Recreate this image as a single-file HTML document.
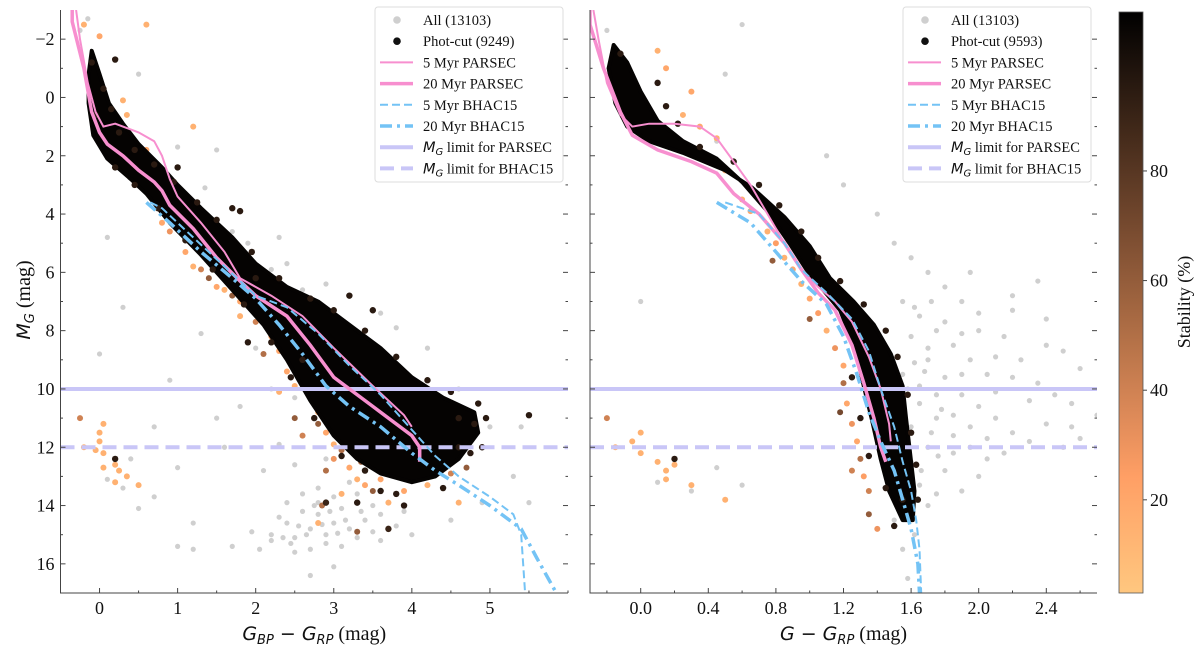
<!DOCTYPE html>
<html><head><meta charset="utf-8">
<style>
html,body{margin:0;padding:0;background:#fff;}
svg{display:block;font-family:"Liberation Serif",serif;}
</style></head>
<body>
<svg id="fig" width="1200" height="652" viewBox="0 0 1200 652" xmlns="http://www.w3.org/2000/svg"></svg>
<script>
// ---------------- DATA ----------------
const leftXTicks=[0,1,2,3,4,5];
const rightXTicks=[0.0,0.4,0.8,1.2,1.6,2.0,2.4];
const rightXTickLabels=["0.0","0.4","0.8","1.2","1.6","2.0","2.4"];
const yTicks=[-2,0,2,4,6,8,10,12,14,16];
const cbarTicks=[20,40,60,80];
const limitParsec=10, limitBhac=12;

// left panel (BP-RP)
const leftBand=[[-0.1,-1.6],[0.0,-0.8],[0.12,0.2],[0.3,0.9],[0.5,1.6],[0.8,2.4],[1.0,3.0],[1.3,3.8],[1.7,4.8],[2.0,5.7],[2.4,6.5],[2.8,7.0],[3.2,7.8],[3.6,8.6],[4.0,9.6],[4.4,10.3],[4.8,10.8],[4.85,11.5],[4.6,12.4],[4.3,13.0],[4.0,13.2],[3.6,12.9],[3.3,12.4],[3.0,11.6],[2.7,10.4],[2.4,9.0],[2.1,7.8],[1.7,6.6],[1.3,5.4],[0.9,4.3],[0.6,3.3],[0.4,2.8],[0.1,2.1],[-0.08,1.3],[-0.14,0.2],[-0.14,-0.8]];
const leftP5=[[-0.3,-3],[-0.25,-2],[-0.15,-0.5],[-0.05,0.5],[0.05,1.0],[0.2,0.9],[0.5,1.2],[0.7,1.5],[0.8,2.0],[0.9,2.8],[1.0,3.4],[1.3,4.3],[1.6,5.3],[1.8,6.2],[2.2,6.8],[2.6,7.5],[3.0,8.6],[3.5,9.9],[3.9,10.9],[4.0,11.3]];
const leftP20=[[-0.35,-3],[-0.35,-2.6],[-0.2,-1],[-0.1,0.5],[0,1.2],[0.1,1.6],[0.3,2.0],[0.5,2.5],[0.7,2.9],[0.8,3.2],[0.9,3.7],[1.2,4.5],[1.5,5.5],[1.8,6.3],[2.0,6.8],[2.4,7.5],[2.7,8.5],[3.0,9.6],[3.5,10.6],[4.0,11.6],[4.1,12.0],[4.1,12.5]];
const leftB5=[[0.65,3.6],[0.8,3.8],[1.2,4.8],[1.6,5.8],[2.0,6.8],[2.4,7.2],[2.8,8.1],[3.2,9.2],[3.6,10.2],[4.0,11.4],[4.3,12.3],[4.6,13.0],[5.0,13.7],[5.3,14.3],[5.4,15.0],[5.45,17]];
const leftB20=[[0.6,3.6],[0.9,4.3],[1.3,5.3],[1.7,6.2],[2.0,6.9],[2.3,7.8],[2.6,8.8],[2.9,9.9],[3.2,10.6],[3.6,11.3],[4.0,12.2],[4.3,12.8],[4.6,13.3],[5.0,14.0],[5.4,14.8],[5.6,15.8],[5.85,17]];
const leftGray=[[0.6,-2.5],[0.5,-0.8],[1.5,1.8],[1.35,3.1],[1.1,3.3],[1.0,1.7],[0.1,4.8],[0.0,8.8],[0.9,9.7],[0.7,11.3],[0.4,12.4],[0.3,13.4],[0.1,13.1],[0.5,14.1],[0.7,13.7],[1.0,15.4],[1.2,15.5],[1.2,14.6],[1.0,12.7],[1.5,11.0],[1.6,12.0],[1.8,10.6],[2.0,8.6],[2.2,10.0],[2.3,11.9],[2.1,12.8],[2.5,10.3],[2.5,12.6],[2.8,13.9],[2.9,12.4],[1.7,15.4],[2.2,15.2],[2.5,15.6],[2.7,16.4],[3.0,16.1],[2.3,4.8],[2.2,5.9],[2.4,5.7],[2.6,6.6],[2.9,6.4],[3.6,7.4],[3.8,7.9],[4.2,8.6],[4.6,10.0],[5.0,11.3],[5.3,13.0],[5.4,11.3],[5.5,13.9],[4.9,13.9],[4.5,14.5],[4.0,15.0],[3.6,15.2],[1.9,5.0],[1.7,4.6],[0.3,7.2],[1.3,8.1],[1.9,7.0],[-0.25,-2.3],[-0.15,-2.7],[3.5,14.0],[2.2,15.0],[2.4,14.6],[2.5,15.1],[2.6,14.2],[2.7,14.8],[2.8,14.3],[2.9,15.0],[3.0,14.6],[3.1,14.1],[3.2,14.8],[3.3,15.1],[3.4,14.5],[3.5,14.9],[2.6,13.6],[2.8,13.4],[3.0,13.7],[3.3,13.6],[3.6,14.3],[3.8,14.7],[3.9,14.2],[2.9,15.3],[2.7,15.5],[3.1,15.4],[2.4,13.9],[2.3,14.4],[3.2,13.2],[2.75,14.0],[3.05,14.95],[2.55,14.7],[2.85,14.65],[2.45,15.3],[2.65,15.0],[2.95,14.2],[3.15,14.5],[3.35,14.2],[2.35,15.1],[2.05,15.5],[1.95,14.9]];
const leftStars=[[0.0,-2.1,20],[-0.2,-2.5,15],[0.6,-2.5,15],[0.3,0.1,15],[0.35,0.6,15],[1.2,1.0,15],[0.6,1.8,20],[0.1,0.8,15],[-0.25,11.0,40],[-0.2,12.0,15],[-0.05,12.1,15],[0.0,11.5,15],[0.05,11.2,15],[0.0,11.8,15],[0.05,12.2,15],[0.05,12.7,15],[0.2,12.6,15],[0.25,12.8,15],[0.2,13.2,15],[0.35,13.0,15],[0.5,13.3,15],[0.2,12.4,95],[0.7,3.5,25],[0.8,4.3,20],[0.9,4.6,30],[1.1,5.3,20],[1.2,5.8,15],[1.3,5.9,40],[1.5,6.5,20],[1.6,6.6,15],[1.8,7.0,20],[1.8,7.5,15],[1.7,6.8,60],[2.0,7.7,40],[2.2,8.2,20],[2.1,8.8,50],[2.3,8.7,20],[2.4,9.4,20],[2.5,9.9,15],[2.6,9.6,30],[2.7,10.3,20],[2.8,10.8,15],[2.8,11.2,60],[2.9,11.5,20],[3.0,11.9,15],[3.1,12.1,50],[3.0,12.4,30],[3.2,12.7,20],[3.3,13.1,15],[3.35,12.5,55],[3.4,13.3,20],[3.5,13.5,60],[3.6,13.1,20],[3.7,13.9,15],[3.9,13.5,20],[4.2,13.3,15],[2.5,11.0,60],[2.6,11.6,40],[2.9,12.8,50],[3.1,13.6,15],[2.8,14.6,15],[2.85,14.0,50],[2.3,10.1,15],[1.4,6.2,60],[4.5,12.9,40],[4.6,13.9,15],[4.7,12.7,60],[3.3,14.9,60],[2.9,13.9,90],[3.7,14.8,90],[5.5,10.9,95],[2.6,9.0,95],[1.9,8.4,95],[4.8,11.2,95],[4.6,11.0,95],[4.85,10.5,95],[3.2,6.8,95],[3.5,7.3,95],[2.0,6.2,95],[1.7,3.8,95],[1.8,3.9,95],[1.0,2.4,95],[0.2,-1.3,95],[-0.1,-1.2,95],[0.05,-0.3,95],[0.15,0.4,95],[0.25,1.2,95],[-0.05,0.6,95],[0.45,1.8,95],[0.7,2.3,95],[0.95,2.9,95],[1.25,3.6,95],[1.5,4.2,95],[1.95,5.3,95],[2.3,6.2,95],[2.7,6.9,95],[3.0,7.3,95],[3.4,8.0,95],[3.8,8.9,95],[4.2,9.7,95],[4.5,10.1,95],[4.95,11.0,95],[4.9,12.0,95],[4.75,12.2,95],[4.4,13.4,95],[3.8,13.6,95],[3.6,13.5,95],[3.4,12.8,95],[3.1,12.3,95],[2.75,11.0,95],[2.45,9.6,95],[2.2,8.4,95],[1.85,7.1,95],[1.45,5.9,95],[1.1,4.9,95],[0.75,3.8,95],[0.45,3.0,95],[0.2,2.4,95],[3.9,14.0,95],[3.3,13.9,95],[4.6,12.0,95]];

// right panel (G-RP)
const rightBand=[[-0.16,-1.8],[-0.08,-1.2],[0.0,-0.2],[0.1,0.8],[0.25,1.5],[0.45,2.1],[0.6,2.9],[0.75,3.9],[0.88,5.0],[0.98,5.9],[1.08,6.6],[1.18,7.3],[1.27,8.6],[1.32,9.9],[1.37,11.1],[1.42,12.4],[1.47,13.5],[1.55,14.5],[1.61,14.5],[1.62,13.5],[1.6,12.5],[1.57,11.0],[1.55,9.9],[1.48,8.8],[1.38,7.8],[1.26,7.0],[1.12,6.2],[1.0,5.1],[0.85,4.1],[0.66,3.1],[0.5,2.5],[0.25,1.9],[0.05,1.5],[-0.08,1.0],[-0.15,0.2],[-0.19,-1.0]];
const rightP5=[[-0.28,-3],[-0.25,-2],[-0.2,-0.5],[-0.12,0.6],[-0.05,1.0],[0.05,0.9],[0.2,0.9],[0.35,1.0],[0.45,1.4],[0.55,2.2],[0.65,3.0],[0.75,4.0],[0.85,5.0],[0.95,5.9],[1.05,6.5],[1.15,7.0],[1.25,7.7],[1.35,8.9],[1.42,10.0],[1.47,11.2],[1.48,11.8]];
const rightP20=[[-0.3,-3],[-0.3,-2.5],[-0.22,-1],[-0.12,0.5],[-0.05,1.3],[0.1,1.8],[0.3,2.2],[0.45,2.6],[0.55,3.3],[0.7,4.0],[0.85,5.0],[0.95,5.9],[1.05,6.7],[1.15,7.3],[1.25,8.5],[1.32,9.8],[1.38,11.0],[1.42,12.0],[1.45,12.5]];
const rightB5=[[0.5,3.6],[0.7,4.0],[0.85,5.0],[0.95,5.9],[1.1,6.7],[1.25,7.6],[1.35,8.7],[1.42,10.0],[1.5,11.3],[1.55,12.5],[1.6,13.5],[1.63,14.5],[1.65,15.5],[1.66,17]];
const rightB20=[[0.45,3.6],[0.65,4.3],[0.8,5.3],[0.95,6.3],[1.1,7.1],[1.2,8.2],[1.28,9.5],[1.35,10.8],[1.42,11.8],[1.5,12.8],[1.55,13.8],[1.6,14.8],[1.64,16],[1.65,17]];
const rightGray=[[1.5,5.0],[1.6,5.5],[1.7,6.0],[1.8,6.5],[1.9,7.0],[2.0,7.4],[1.55,7.0],[1.65,7.5],[1.75,8.0],[1.85,8.5],[1.95,9.0],[2.05,9.5],[2.15,8.2],[2.25,9.0],[2.35,9.8],[2.45,10.2],[2.55,10.5],[2.6,9.3],[2.4,8.5],[2.2,7.3],[1.7,9.0],[1.8,9.6],[1.9,10.2],[2.0,10.6],[2.1,11.0],[2.2,11.5],[2.3,11.8],[1.65,10.5],[1.75,11.0],[1.85,11.6],[1.95,12.0],[2.05,12.4],[1.7,12.0],[1.8,12.8],[1.6,12.5],[1.65,13.3],[1.7,14.0],[1.62,15.0],[1.55,15.5],[1.58,16.5],[1.5,14.5],[2.6,11.7],[2.0,13.0],[1.9,13.5],[1.75,13.6],[2.3,10.4],[2.4,11.2],[2.5,12.0],[1.6,8.2],[1.7,8.6],[1.8,7.7],[1.9,8.1],[2.0,8.0],[2.1,8.9],[1.9,9.5],[2.1,10.1],[2.2,9.6],[1.55,9.5],[1.65,9.9],[1.75,10.2],[1.85,10.9],[1.95,11.3],[2.05,11.7],[2.15,12.2],[1.85,12.2],[2.5,8.7],[2.4,7.6],[2.7,10.9],[2.55,11.3],[2.2,6.8],[1.95,6.0],[2.35,6.3],[1.4,4.0],[1.2,3.0],[1.1,2.0],[0.6,-2.5],[0.5,-0.8],[0.45,1.5],[-0.2,-2.3],[1.0,5.5],[0.1,13.2],[0.3,13.5],[0.6,13.3],[0.45,12.7],[0.0,7.0],[1.62,7.2],[1.72,7.0],[1.68,9.4],[1.78,10.7],[1.6,11.3],[1.72,11.5],[1.62,9.1],[1.58,10.0],[1.66,12.8],[1.76,12.3]];
const rightStars=[[0.3,-0.2,20],[0.25,0.6,15],[0.15,-1.0,20],[0.1,-1.6,15],[0.35,1.0,20],[0.45,1.4,15],[0.5,2.5,20],[0.6,3.5,15],[0.65,3.9,20],[0.75,4.6,15],[0.8,5.0,25],[0.85,5.5,15],[0.9,5.9,20],[0.95,6.4,15],[1.0,6.9,20],[1.05,7.4,25],[1.1,8.0,15],[1.15,8.6,30],[1.2,9.2,20],[1.2,9.8,50],[1.22,10.5,20],[1.25,11.2,30],[1.28,11.8,20],[1.3,12.4,50],[1.32,13.0,25],[1.35,13.5,40],[1.35,14.3,60],[1.4,14.8,30],[1.25,12.8,40],[1.18,10.8,70],[0.78,5.6,60],[1.0,7.6,60],[-0.2,11.0,40],[-0.15,12.0,15],[-0.05,11.8,15],[0.0,11.5,15],[0.0,12.2,15],[0.1,12.5,15],[0.15,12.8,15],[0.2,12.6,15],[0.15,13.1,15],[0.3,13.3,15],[0.5,13.8,15],[0.2,12.4,95],[1.5,14.7,95],[1.45,13.4,95],[1.55,13.8,95],[0.1,-0.5,95],[0.15,0.3,95],[0.22,0.9,95],[-0.12,-1.5,95],[0.35,1.7,95],[0.55,2.2,95],[0.7,3.0,95],[0.82,3.7,95],[0.95,4.6,95],[1.05,5.5,95],[1.18,6.3,95],[1.32,7.1,95],[1.45,8.0,95],[1.52,8.9,95],[1.58,10.2,95],[1.6,11.5,95],[1.63,12.6,95],[1.64,13.8,95],[1.35,12.3,95],[1.3,11.0,95],[1.25,9.6,95]];

// ---------------- RENDER ----------------
const NS="http://www.w3.org/2000/svg";
const svg=document.getElementById('fig');
function mk(tag,attrs,parent){const e=document.createElementNS(NS,tag);for(const k in attrs)e.setAttribute(k,attrs[k]);(parent||svg).appendChild(e);return e;}
const Y0=10,Y1=593,YMIN=-3,YMAX=17;
function yScale(v){return Y0+(v-YMIN)/(YMAX-YMIN)*(Y1-Y0);}
const panels=[
 {name:'left',x0:60.5,x1:568,xmin:-0.5,xmax:6.0,band:leftBand,p5:leftP5,p20:leftP20,b5:leftB5,b20:leftB20,gray:leftGray,stars:leftStars,ticks:leftXTicks,labels:leftXTicks.map(String),minor:0.5,legendX:375,count:'9249'},
 {name:'right',x0:590,x1:1097,xmin:-0.3,xmax:2.7,band:rightBand,p5:rightP5,p20:rightP20,b5:rightB5,b20:rightB20,gray:rightGray,stars:rightStars,ticks:rightXTicks,labels:rightXTickLabels,minor:0.2,legendX:903,count:'9593'}
];
const VMIN=3,VMAX=109;
function cmap(v){let t=(v-VMIN)/(VMAX-VMIN);t=Math.max(0,Math.min(1,t));const c=1-t;
 return `rgb(${Math.round(255*Math.min(1,1.25*c))},${Math.round(255*0.7812*c)},${Math.round(255*0.4975*c)})`;}
const PINK='#f78fcf',BLUE='#74c3f5',LAV='#c9c6f7';

panels.forEach(p=>{
 const xs=v=>p.x0+(v-p.xmin)/(p.xmax-p.xmin)*(p.x1-p.x0);
 const g=mk('g',{});
 
 
 const cid='clip-'+p.name;
 const cp=mk('clipPath',{id:cid},g);mk('rect',{x:p.x0,y:Y0,width:p.x1-p.x0,height:Y1-Y0},cp);
 const pg=mk('g',{'clip-path':`url(#${cid})`},g);
 p.gray.forEach(d=>{const c=mk('circle',{cx:xs(d[0]),cy:yScale(d[1]),r:2.6,fill:'#cfcfcf'},pg);
  
  });
 p.stars.forEach(d=>{if(d[2]>=80)return;const c=mk('circle',{cx:xs(d[0]),cy:yScale(d[1]),r:3,fill:cmap(d[2])},pg);
  
  });
 const band=mk('polygon',{points:p.band.map(d=>xs(d[0])+','+yScale(d[1])).join(' '),fill:'#050302',stroke:'#050302','stroke-width':4,'stroke-linejoin':'round'},pg);
 
 
 p.stars.forEach(d=>{if(d[2]<80)return;const c=mk('circle',{cx:xs(d[0]),cy:yScale(d[1]),r:3.2,fill:cmap(d[2])},pg);
  
  });
 const l1=mk('line',{x1:p.x0,x2:p.x1,y1:yScale(limitParsec),y2:yScale(limitParsec),stroke:LAV,'stroke-width':4},pg);
 
 
 const l2=mk('line',{x1:p.x0,x2:p.x1,y1:yScale(limitBhac),y2:yScale(limitBhac),stroke:LAV,'stroke-width':4,'stroke-dasharray':'14,7'},pg);
 
 
 const path=arr=>arr.map((d,i)=>(i?'L':'M')+xs(d[0]).toFixed(1)+','+yScale(d[1]).toFixed(1)).join('');
 const i1=mk('path',{d:path(p.p5),fill:'none',stroke:PINK,'stroke-width':2},pg);
 
 
 const i2=mk('path',{d:path(p.p20),fill:'none',stroke:PINK,'stroke-width':3.5},pg);
 
 
 const i3=mk('path',{d:path(p.b5),fill:'none',stroke:BLUE,'stroke-width':2,'stroke-dasharray':'8,4'},pg);
 
 
 const i4=mk('path',{d:path(p.b20),fill:'none',stroke:BLUE,'stroke-width':3.5,'stroke-dasharray':'12,5,3,5'},pg);
 
 
 const ax=mk('path',{d:`M${p.x0},${Y0}V${Y1}H${p.x1}`,fill:'none',stroke:'#444','stroke-width':1},g);
 
 
 for(let v=YMIN;v<=YMAX;v++){if(v===YMIN)continue;const y=yScale(v);const L=(v%2===0)?5:2.5;
  mk('line',{x1:p.x0,x2:p.x0+L,y1:y,y2:y,stroke:'#444'},g);
  mk('line',{x1:p.x1,x2:p.x1-L,y1:y,y2:y,stroke:'#444'},g);}
 if(p.name==='left'){yTicks.forEach(v=>{const t=mk('text',{x:p.x0-6,y:yScale(v)+6,'text-anchor':'end','font-size':18,fill:'#111'},g);
  t.textContent=v<0?'\u2212'+(-v):String(v);
  
  });}
 for(let v=Math.ceil(p.xmin/p.minor)*p.minor;v<=p.xmax+1e-9;v+=p.minor){const x=xs(v);
  const major=p.ticks.some(t=>Math.abs(t-v)<1e-6);mk('line',{x1:x,x2:x,y1:Y1,y2:Y1-(major?5:2.5),stroke:'#444'},g);}
 p.ticks.forEach((v,i)=>{const t=mk('text',{x:xs(v),y:Y1+21,'text-anchor':'middle','font-size':18,fill:'#111'},g);
  t.textContent=p.labels[i];
  
  });
 const xl=mk('text',{x:(p.x0+p.x1)/2,y:640,'text-anchor':'middle','font-size':20,fill:'#111'},g);
 
 
 if(p.name==='left'){
  xl.innerHTML='<tspan font-family="DejaVu Sans, sans-serif" font-style="italic" font-size="19">G</tspan><tspan font-family="DejaVu Sans, sans-serif" font-style="italic" font-size="13" dy="4">BP</tspan><tspan dy="-4" font-family="DejaVu Sans, sans-serif" font-size="19"> \u2212 </tspan><tspan font-family="DejaVu Sans, sans-serif" font-style="italic" font-size="19">G</tspan><tspan font-family="DejaVu Sans, sans-serif" font-style="italic" font-size="13" dy="4">RP</tspan><tspan dy="-4"> (mag)</tspan>';
 } else {
  xl.innerHTML='<tspan font-family="DejaVu Sans, sans-serif" font-style="italic" font-size="19">G</tspan><tspan font-family="DejaVu Sans, sans-serif" font-size="19"> \u2212 </tspan><tspan font-family="DejaVu Sans, sans-serif" font-style="italic" font-size="19">G</tspan><tspan font-family="DejaVu Sans, sans-serif" font-style="italic" font-size="13" dy="4">RP</tspan><tspan dy="-4"> (mag)</tspan>';
 }
 const lg=mk('g',{},g);
 
 
 const LX=p.legendX;
 mk('rect',{x:LX,y:7,width:188,height:175,rx:3,fill:'#fff','fill-opacity':0.85,stroke:'#ddd'},lg);
 const rows=[
  {t:'All (13103)',k:'dot',c:'#cfcfcf'},{t:'Phot-cut ('+p.count+')',k:'dot',c:'#111'},
  {t:'5 Myr PARSEC',k:'line',c:PINK,w:2},{t:'20 Myr PARSEC',k:'line',c:PINK,w:3.5},
  {t:'5 Myr BHAC15',k:'line',c:BLUE,w:2,da:'8,4'},{t:'20 Myr BHAC15',k:'line',c:BLUE,w:3.5,da:'12,5,3,5'},
  {t:'PARSEC',k:'line',c:LAV,w:4,mg:true},{t:'BHAC15',k:'line',c:LAV,w:4,da:'14,7',mg:true}];
 rows.forEach((r,i)=>{const y=20+21.2*i;
  if(r.k==='dot')mk('circle',{cx:LX+22,cy:y,r:3.8,fill:r.c},lg);
  else{const a={x1:LX+5,x2:LX+38,y1:y,y2:y,stroke:r.c,'stroke-width':r.w};if(r.da)a['stroke-dasharray']=r.da;mk('line',a,lg);}
  const t=mk('text',{x:LX+48,y:y+5,'font-size':14.5,fill:'#111'},lg);
  if(r.mg)t.innerHTML='<tspan font-family="DejaVu Sans, sans-serif" font-style="italic">M</tspan><tspan font-family="DejaVu Sans, sans-serif" font-style="italic" font-size="10" dy="3">G</tspan><tspan dy="-3"> limit for '+r.t+'</tspan>';
  else t.textContent=r.t;
  
  });
});
const yl=mk('text',{x:0,y:0,'text-anchor':'middle','font-size':20,fill:'#111',transform:'translate(30,300) rotate(-90)'});
yl.innerHTML='<tspan font-family="DejaVu Sans, sans-serif" font-style="italic" font-size="19">M</tspan><tspan font-family="DejaVu Sans, sans-serif" font-style="italic" font-size="13" dy="4">G</tspan><tspan dy="-4"> (mag)</tspan>';


const CB={x:1119,w:24,y0:12,y1:593};
const cbY=v=>CB.y1-(v-VMIN)/(VMAX-VMIN)*(CB.y1-CB.y0);
const defs=mk('defs',{});
const grad=mk('linearGradient',{id:'cbg',x1:0,y1:1,x2:0,y2:0},defs);
for(let i=0;i<=10;i++){const v=VMIN+(VMAX-VMIN)*i/10;mk('stop',{offset:i/10,'stop-color':cmap(v)},grad);}
const cbr=mk('rect',{x:CB.x,y:CB.y0,width:CB.w,height:CB.y1-CB.y0,fill:'url(#cbg)',stroke:'#555','stroke-width':0.8});


cbarTicks.forEach(v=>{const y=cbY(v);mk('line',{x1:CB.x+CB.w,x2:CB.x+CB.w+4,y1:y,y2:y,stroke:'#444'});
 const t=mk('text',{x:CB.x+CB.w+7,y:y+6,'font-size':18,fill:'#111'});t.textContent=String(v);
 
 });
const cl=mk('text',{x:0,y:0,'text-anchor':'middle','font-size':18,fill:'#111',transform:'translate(1190,302) rotate(-90)'});
cl.textContent='Stability (%)';


</script>
</body></html>
